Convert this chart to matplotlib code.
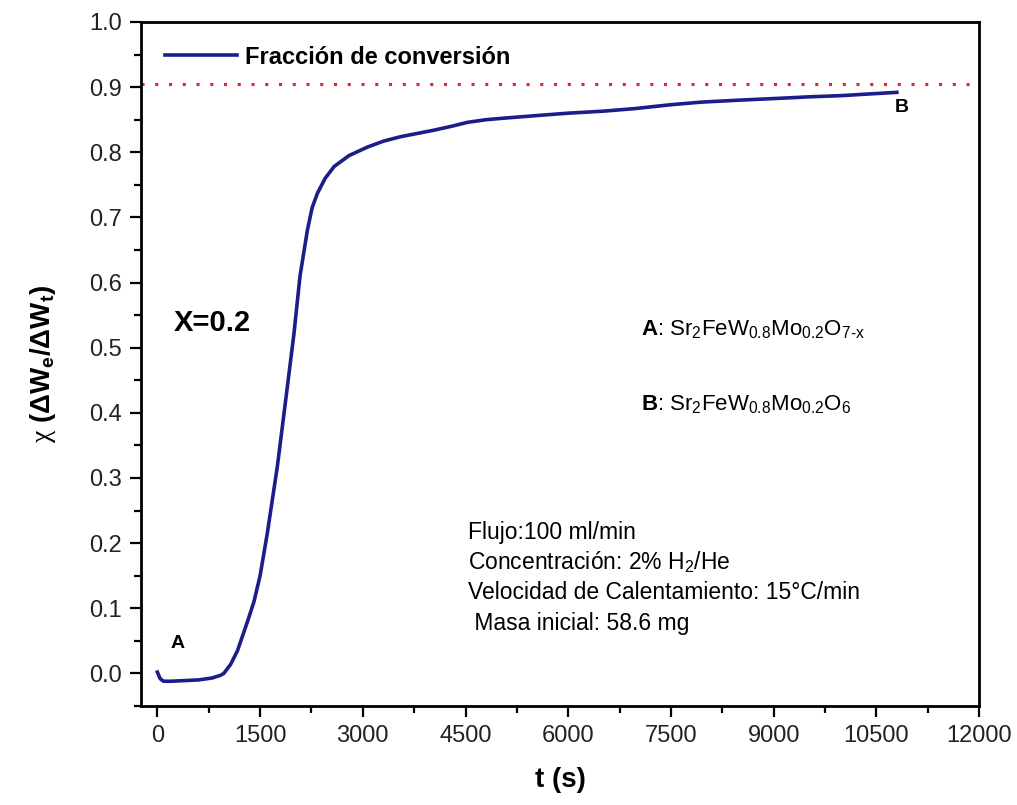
import matplotlib
matplotlib.use("Agg")
import numpy as np
from matplotlib import pyplot as plt
from matplotlib.ticker import MultipleLocator

plt.rcParams['font.family'] = ['Liberation Sans', 'DejaVu Sans']
plt.rcParams['mathtext.fontset'] = 'custom'
plt.rcParams['mathtext.rm'] = 'Liberation Sans'
plt.rcParams['mathtext.it'] = 'Liberation Sans:italic'
plt.rcParams['mathtext.bf'] = 'Liberation Sans:bold'
plt.rcParams['mathtext.sf'] = 'Liberation Serif'  # para la chi

# curva
t_s = [0, 40, 90, 200, 400, 600, 800, 920, 970, 1070, 1170, 1317, 1410, 1500, 1605,
       1751, 1873, 1995, 2083, 2190, 2260, 2337, 2450, 2580, 2800, 3069, 3300, 3556,
       3800, 4044, 4300, 4532, 4800, 5020, 5500, 5996, 6500, 6970, 7500, 7946, 8500,
       9117, 9500, 10000, 10800]
chi = [0.002, -0.008, -0.012, -0.012, -0.011, -0.010, -0.007, -0.003, 0.0, 0.014,
       0.035, 0.080, 0.110, 0.150, 0.215, 0.317, 0.419, 0.522, 0.610, 0.680, 0.715,
       0.737, 0.760, 0.778, 0.795, 0.808, 0.817, 0.824, 0.829, 0.834, 0.840, 0.846,
       0.850, 0.852, 0.856, 0.860, 0.863, 0.867, 0.873, 0.877, 0.880, 0.883, 0.885,
       0.887, 0.892]
chi_eq = 0.905

serie = 'Fracción de conversión'
x_ticks = [0, 1500, 3000, 4500, 6000, 7500, 9000, 10500, 12000]
y_ticks = [0.0, 0.1, 0.2, 0.3, 0.4, 0.5, 0.6, 0.7, 0.8, 0.9, 1.0]
condiciones = ['Flujo:100 ml/min',
               r'Concentración: 2% H$_\mathregular{2}$/He',
               'Velocidad de Calentamiento: 15°C/min',
               ' Masa inicial: 58.6 mg']

fig = plt.figure(figsize=(10.17, 8.05), dpi=100)
ax = fig.add_axes([0.1386, 0.123, 0.8241, 0.8497])

ax.plot(t_s, chi, color='#1c1c8a', lw=2.6, label=serie)
ax.axhline(chi_eq, color='#e8202a', lw=2.2, linestyle=(0, (1, 3.5)))

ax.set_xlim(-240, 12000)
ax.set_ylim(-0.05, 1.0)
ax.set_xticks(x_ticks)
ax.set_yticks(y_ticks)
ax.set_yticklabels(['%.1f' % v for v in y_ticks])
ax.xaxis.set_minor_locator(MultipleLocator(750))
ax.yaxis.set_minor_locator(MultipleLocator(0.05))
ax.tick_params(which='major', direction='out', length=8, width=1.6,
               labelsize=17, pad=6, labelcolor='#222222')
ax.tick_params(which='minor', direction='out', length=5, width=1.6)
for sp in ax.spines.values():
    sp.set_linewidth(2)

ax.set_xlabel('t (s)', fontsize=20, fontweight='bold', labelpad=14)
ax.set_ylabel(r'$\mathsf{\chi}$ (ΔW$_\mathregular{e}$/ΔW$_\mathregular{t}$)', fontsize=20,
              fontweight='bold', labelpad=22)

leg = ax.legend(loc='upper left', bbox_to_anchor=(0.0, 1.0), frameon=False,
                handlelength=3.05, handletextpad=0.35, borderaxespad=0.6,
                prop={'size': 17, 'weight': 'bold'})

ax.text(234, 0.538, 'X=0.2', fontsize=21, fontweight='bold', va='center')
ax.text(293, 0.046, 'A', fontsize=14, fontweight='bold', va='center', ha='center')
ax.text(10873, 0.869, 'B', fontsize=14, fontweight='bold', va='center', ha='center')

ax.text(7070, 0.527, r'$\mathbf{A}$: Sr$_\mathregular{2}$FeW$_\mathregular{0.8}$Mo$_\mathregular{0.2}$O$_{\text{7-x}}$',
        fontsize=16, va='center')
ax.text(7070, 0.412, r'$\mathbf{B}$: Sr$_\mathregular{2}$FeW$_\mathregular{0.8}$Mo$_\mathregular{0.2}$O$_\mathregular{6}$',
        fontsize=16, va='center')

for i, txt in enumerate(condiciones):
    ax.text(4537, 0.217 - i * 0.0467, txt, fontsize=16.5, va='center')

fig.savefig('out.png', dpi=100)
